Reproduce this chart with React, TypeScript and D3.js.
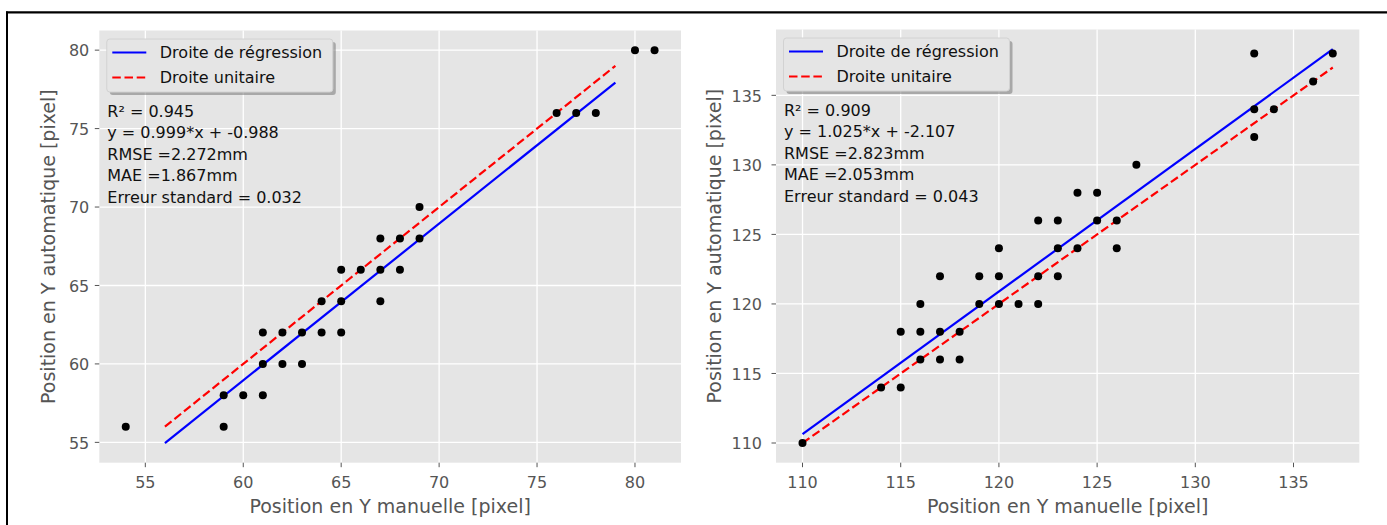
import React from "react";
import * as d3 from "d3";

// ---------- data ----------
const leftManual = [54, 59, 59, 60, 61, 61, 61, 62, 62, 63, 63, 64, 64, 65, 65, 65, 66, 67, 67, 67, 68, 68, 69, 69, 76, 77, 78, 80, 81];
const leftAuto = [56, 58, 56, 58, 58, 60, 62, 62, 60, 62, 60, 64, 62, 66, 64, 62, 66, 68, 66, 64, 68, 66, 70, 68, 76, 76, 76, 80, 80];
const leftLineRange = [56, 79];
const leftSlope = 0.999;
const leftIntercept = -0.988;
const leftStats = ["R² = 0.945", "y = 0.999*x + -0.988", "RMSE =2.272mm", "MAE =1.867mm", "Erreur standard = 0.032"];
const leftTicks = [55, 60, 65, 70, 75, 80];

const rightManual = [110, 114, 115, 115, 116, 116, 116, 117, 117, 117, 118, 118, 119, 119, 120, 120, 120, 121, 122, 122, 122, 123, 123, 123, 124, 124, 125, 125, 126, 126, 127, 133, 133, 133, 134, 136, 137];
const rightAuto = [110, 114, 114, 118, 120, 118, 116, 122, 118, 116, 118, 116, 122, 120, 124, 122, 120, 120, 126, 122, 120, 126, 124, 122, 128, 124, 128, 126, 126, 124, 130, 138, 134, 132, 134, 136, 138];
const rightLineRange = [110, 137];
const rightSlope = 1.025;
const rightIntercept = -2.107;
const rightStats = ["R² = 0.909", "y = 1.025*x + -2.107", "RMSE =2.823mm", "MAE =2.053mm", "Erreur standard = 0.043"];
const rightTicks = [110, 115, 120, 125, 130, 135];

const legendLabels = ["Droite de régression", "Droite unitaire"];
const xLabel = "Position en Y manuelle [pixel]";
const yLabel = "Position en Y automatique [pixel]";

const FONT = "DejaVu Sans, sans-serif";

type PanelProps = {
  xs: number[];
  ys: number[];
  lineRange: number[];
  slope: number;
  intercept: number;
  stats: string[];
  ticks: number[];
  left: number;
  right: number;
  top: number;
  bottom: number;
  yTickGap: number;
  yLabelX: number;
};

function margin(ext: number[]): [number, number] {
  const span = ext[1] - ext[0];
  return [ext[0] - span * 0.05, ext[1] + span * 0.05];
}

function Panel(p: PanelProps) {
  const regY = p.lineRange.map((x) => p.slope * x + p.intercept);
  const xExt = d3.extent([...p.xs, ...p.lineRange]) as number[];
  const yExt = d3.extent([...p.ys, ...regY, ...p.lineRange]) as number[];
  const x = d3.scaleLinear().domain(margin(xExt)).range([p.left, p.right]);
  const y = d3.scaleLinear().domain(margin(yExt)).range([p.bottom, p.top]);

  const line = d3
    .line<[number, number]>()
    .x((d) => x(d[0]))
    .y((d) => y(d[1]));
  const regPts: [number, number][] = p.lineRange.map((v, i) => [v, regY[i]]);
  const unitPts: [number, number][] = p.lineRange.map((v) => [v, v]);

  const lx = p.left + 7.5;
  const ly = p.top + 8.5;
  const lw = 226;
  const lh = 53;
  const cx = (p.left + p.right) / 2;
  const cy = (p.top + p.bottom) / 2;

  return (
    <g>
      <rect x={p.left} y={p.top} width={p.right - p.left} height={p.bottom - p.top} fill="#E5E5E5" />
      {p.ticks.map((t) => (
        <line key={"gx" + t} x1={x(t)} x2={x(t)} y1={p.top} y2={p.bottom} stroke="#fff" strokeWidth={1.3} />
      ))}
      {p.ticks.map((t) => (
        <line key={"gy" + t} x1={p.left} x2={p.right} y1={y(t)} y2={y(t)} stroke="#fff" strokeWidth={1.3} />
      ))}
      {/* x ticks */}
      {p.ticks.map((t) => (
        <g key={"tx" + t}>
          <line x1={x(t)} x2={x(t)} y1={p.bottom} y2={p.bottom + 4.5} stroke="#555" strokeWidth={1} />
          <text x={x(t)} y={p.bottom + 25.5} textAnchor="middle" fontSize={16} fill="#555" fontFamily={FONT}>
            {t}
          </text>
        </g>
      ))}
      {/* y ticks */}
      {p.ticks.map((t) => (
        <g key={"ty" + t}>
          <line x1={p.left - 4.5} x2={p.left} y1={y(t)} y2={y(t)} stroke="#555" strokeWidth={1} />
          <text x={p.left - p.yTickGap} y={y(t) + 6.3} textAnchor="end" fontSize={16} fill="#555" fontFamily={FONT}>
            {t}
          </text>
        </g>
      ))}
      <text x={cx} y={p.bottom + 50} textAnchor="middle" fontSize={19} fill="#555" fontFamily={FONT}>
        {xLabel}
      </text>
      <text
        transform={`translate(${p.yLabelX},${cy}) rotate(-90)`}
        textAnchor="middle"
        fontSize={19}
        fill="#555"
        fontFamily={FONT}
      >
        {yLabel}
      </text>
      {/* lines */}
      <path d={line(regPts) || ""} stroke="#0000FF" strokeWidth={2.2} fill="none" />
      <path d={line(unitPts) || ""} stroke="#FF0000" strokeWidth={2.2} fill="none" strokeDasharray="8.5 3.7" />
      {/* points */}
      {p.xs.map((v, i) => (
        <circle key={"pt" + i} cx={x(v)} cy={y(p.ys[i])} r={4} fill="#000" />
      ))}
      {/* legend */}
      <rect x={lx + 3} y={ly + 3} width={lw} height={lh} rx={3} fill="#777" opacity={0.55} />
      <rect x={lx} y={ly} width={lw} height={lh} rx={3} fill="#E5E5E5" stroke="#D2D2D2" strokeWidth={1} />
      <line x1={lx + 5.5} x2={lx + 39.5} y1={ly + 13.5} y2={ly + 13.5} stroke="#0000FF" strokeWidth={2.2} />
      <line x1={lx + 5.5} x2={lx + 39.5} y1={ly + 38.5} y2={ly + 38.5} stroke="#FF0000" strokeWidth={2.2} strokeDasharray="8.5 3.7" />
      {legendLabels.map((s, i) => (
        <text key={"lg" + i} x={lx + 53} y={ly + 19.3 + i * 24.5} fontSize={16} fill="#111" fontFamily={FONT}>
          {s}
        </text>
      ))}
      {/* stats text */}
      {p.stats.map((s, i) => (
        <text key={"st" + i} x={p.left + 8} y={p.top + 86 + i * 21.65} fontSize={16} fill="#111" fontFamily={FONT}>
          {s}
        </text>
      ))}
    </g>
  );
}

export default function App() {
  return (
    <svg
      width={1387}
      height={525}
      style={{ position: "absolute", left: 0, top: 0, background: "#fff" }}
    >
      <rect x={0} y={0} width={1387} height={525} fill="#fff" />
      <line x1={6} x2={1387} y1={12.3} y2={12.3} stroke="#000" strokeWidth={2.2} />
      <line x1={7} x2={7} y1={11.5} y2={525} stroke="#000" strokeWidth={2} />
      <Panel
        xs={leftManual}
        ys={leftAuto}
        lineRange={leftLineRange}
        slope={leftSlope}
        intercept={leftIntercept}
        stats={leftStats}
        ticks={leftTicks}
        left={99.3}
        right={681}
        top={30.5}
        bottom={462.7}
        yTickGap={10}
        yLabelX={55}
      />
      <Panel
        xs={rightManual}
        ys={rightAuto}
        lineRange={rightLineRange}
        slope={rightSlope}
        intercept={rightIntercept}
        stats={rightStats}
        ticks={rightTicks}
        left={776}
        right={1359.3}
        top={29.5}
        bottom={462.7}
        yTickGap={14}
        yLabelX={721}
      />
    </svg>
  );
}
